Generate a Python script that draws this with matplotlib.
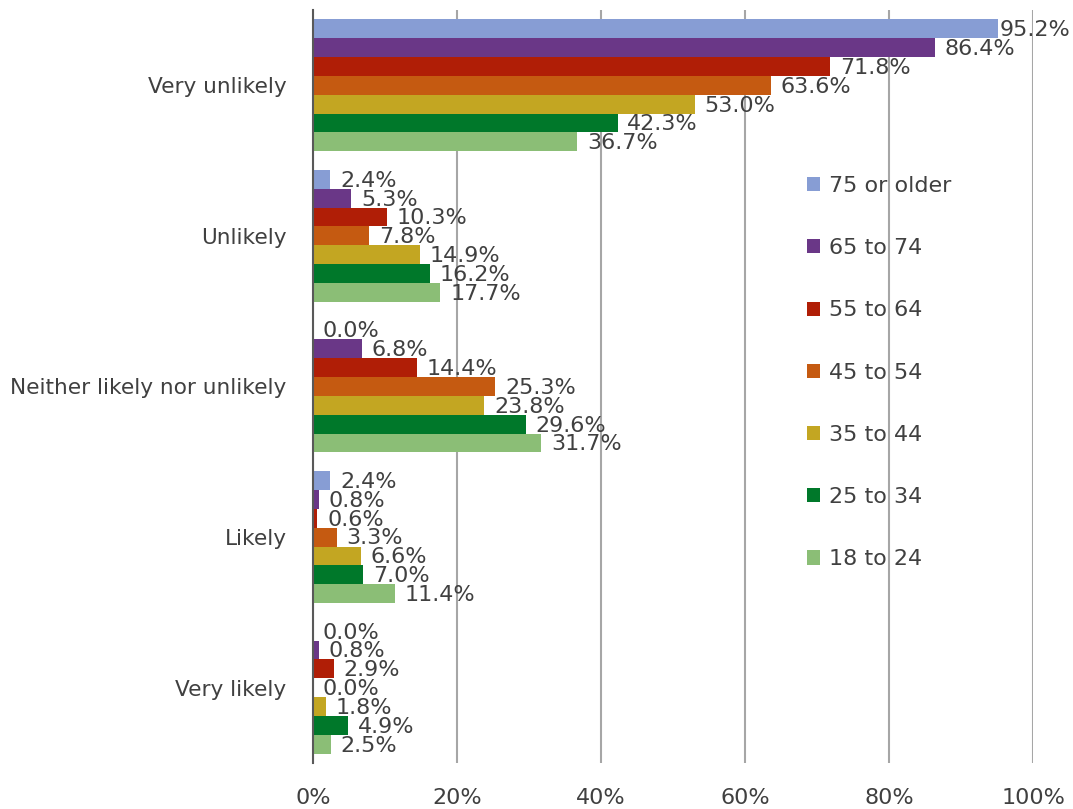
import matplotlib.pyplot as plt
import numpy as np

categories = ["Very unlikely", "Unlikely", "Neither likely nor unlikely", "Likely", "Very likely"]
series = ["75 or older", "65 to 74", "55 to 64", "45 to 54", "35 to 44", "25 to 34", "18 to 24"]
colors = ["#879DD4", "#6A3787", "#B01E06", "#C55A11", "#C3A622", "#00782A", "#8BBE76"]

# values per series, in category order
v75 = [95.2, 2.4, 0.0, 2.4, 0.0]
v65 = [86.4, 5.3, 6.8, 0.8, 0.8]
v55 = [71.8, 10.3, 14.4, 0.6, 2.9]
v45 = [63.6, 7.8, 25.3, 3.3, 0.0]
v35 = [53.0, 14.9, 23.8, 6.6, 1.8]
v25 = [42.3, 16.2, 29.6, 7.0, 4.9]
v18 = [36.7, 17.7, 31.7, 11.4, 2.5]
values = [v75, v65, v55, v45, v35, v25, v18]

plt.rcParams['font.family'] = ['DejaVu Sans']
txt = "#404040"
fs = 16

fig = plt.figure(figsize=(10.73, 8.09), dpi=100)
ax = fig.add_axes([313 / 1073, 1 - 763 / 809, 720 / 1073, 753 / 809])

y = np.arange(len(categories))
h = 1 / 8
for i, (name, vals) in enumerate(zip(series, values)):
    pos = y - 3 * h + i * h
    ax.barh(pos, vals, height=h, color=colors[i], label=name, zorder=3)
    for p, v in zip(pos, vals):
        # keep the longest label inside the picture
        off = 1 if v > 90 else 7
        ax.annotate(f"{v:.1f}%", (v, p), xytext=(off, -1), textcoords="offset points",
                    va="center", ha="left", fontsize=fs, color=txt, zorder=4,
                    annotation_clip=False)

ax.set_xlim(0, 100)
ax.set_ylim(len(categories) - 0.5, -0.5)
ax.set_yticks(y)
ax.set_yticklabels(categories, fontsize=15.6, color=txt)
ax.set_xticks(np.arange(0, 101, 20))
ax.set_xticklabels([f"{t}%" for t in range(0, 101, 20)], fontsize=fs, color=txt)
ax.tick_params(length=0)
ax.tick_params(axis="y", pad=19)
ax.tick_params(axis="x", pad=18)
for s in ["top", "right", "bottom"]:
    ax.spines[s].set_visible(False)
ax.spines["left"].set_color("#595959")
ax.spines["left"].set_linewidth(1.5)
ax.spines["left"].set_zorder(5)
ax.grid(axis="x", color="#A6A6A6", linewidth=1.5, zorder=0)
ax.set_axisbelow(True)

ax.legend(loc="upper left", bbox_to_anchor=(787 / 1073, 1 - 156 / 809),
          bbox_transform=fig.transFigure, frameon=False, fontsize=fs,
          handlelength=0.6, handleheight=0.6, handletextpad=0.4,
          labelspacing=1.9, labelcolor=txt)

fig.savefig("out.png", dpi=100)
